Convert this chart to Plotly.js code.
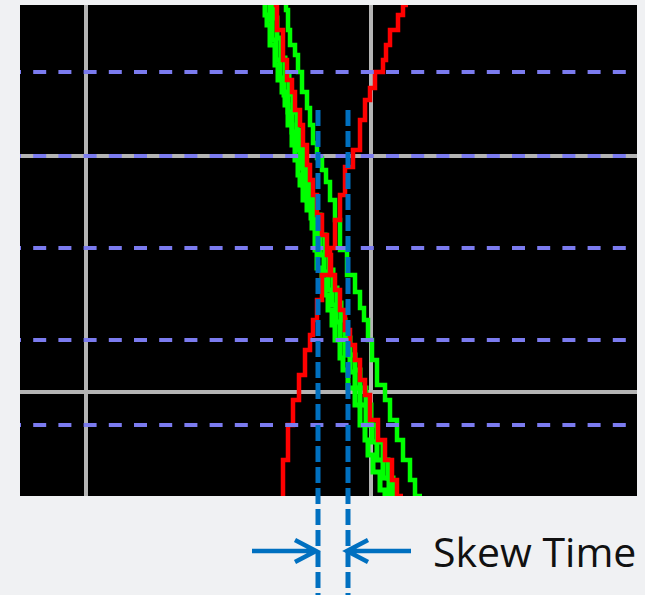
<!DOCTYPE html>
<html>
<head>
<meta charset="utf-8">
<script src="https://cdn.plot.ly/plotly-3.0.1.min.js"></script>
<style>
  html, body { margin: 0; padding: 0; background: #f0f1f3; }
  #chart { width: 645px; height: 595px; }
</style>
</head>
<body>
<div id="chart"></div>
<script>
// Scope capture: time in ps, level in mV (screen window 0..617 ps, 0..491 mV)
const T_RANGE = [0, 617];
const V_RANGE = [0, 491];

// Rising edge (red)
const riseRedT = [263, 268, 273, 279, 285, 290, 293, 297, 302, 310, 315, 320, 325, 333, 340, 345, 350, 355, 363, 366, 370, 378, 383, 388];
const riseRedV = [0, 36, 71, 96, 121, 146, 161, 176, 196, 221, 248, 276, 301, 329, 346, 376, 396, 408, 424, 436, 451, 466, 481, 491];

// Falling edge (red)
const fallRedT = [256, 257, 263, 267, 272, 275, 280, 283, 287, 290, 293, 297, 302, 307, 311, 315, 320, 325, 330, 335, 340, 345, 350, 358, 365, 372, 377, 383];
const fallRedV = [496, 491, 466, 436, 416, 404, 386, 371, 351, 331, 316, 301, 281, 261, 241, 221, 206, 186, 166, 151, 136, 116, 101, 76, 56, 36, 16, 0];

// Falling edges (green), persistence bundle
const greenAT = [245, 247, 250, 255, 258, 262, 265, 268, 272, 275, 278, 280, 283, 287, 292, 295, 297, 302, 305, 308, 312, 315, 320, 323, 328, 335, 340, 345, 348, 353, 360, 365, 367];
const greenAV = [496, 481, 471, 451, 431, 416, 404, 391, 371, 351, 336, 321, 311, 296, 286, 268, 246, 228, 216, 201, 186, 171, 156, 138, 126, 108, 91, 71, 56, 41, 24, 6, -4];

const greenBT = [250, 252, 256, 260, 264, 268, 272, 276, 280, 283, 287, 291, 296, 300, 304, 308, 312, 316, 320, 325, 330, 335, 340, 346, 352, 357, 363, 369, 374];
const greenBV = [496, 476, 456, 436, 418, 401, 384, 364, 346, 328, 311, 296, 278, 258, 241, 224, 206, 191, 174, 156, 141, 124, 108, 91, 71, 54, 36, 18, 0];

const greenCT = [254, 257, 261, 265, 269, 273, 277, 280, 284, 287, 291, 295, 300, 305, 309, 313, 317, 321, 325, 330, 335, 340, 346, 351, 357, 363, 368, 373, 378];
const greenCV = [496, 478, 458, 438, 420, 402, 384, 366, 348, 331, 314, 298, 281, 261, 244, 226, 208, 193, 176, 158, 141, 126, 108, 91, 71, 54, 36, 18, 0];

const greenDT = [266, 268, 270, 275, 278, 282, 287, 290, 293, 297, 302, 306, 310, 315, 320, 327, 335, 340, 344, 348, 352, 357, 365, 370, 377, 383, 390, 395, 402];
const greenDV = [496, 486, 466, 451, 441, 424, 404, 388, 371, 353, 338, 326, 314, 296, 276, 246, 221, 204, 188, 176, 156, 136, 111, 96, 76, 56, 36, 16, 0];

// Graticule and threshold levels
const gridT = [66, 351];
const gridV = [340, 104];
const thresholdV = [424, 340, 248, 156, 71];

// Skew measurement cursors
const skewEdges = [298, 328];
const skewLabel = 'Skew Time';

const PLOT_H = 491;
const toPaperX = t => (t - T_RANGE[0]) / (T_RANGE[1] - T_RANGE[0]);
const pxToPaperY = dy => dy / PLOT_H;   // pixel offset above the plot bottom

const RED = '#ff0000';
const GREEN = '#00ff00';
const CURSOR = '#0070c0';

function edge(t, v, color, width) {
  return {
    x: t, y: v, type: 'scatter', mode: 'lines',
    line: { color: color, width: width, shape: 'vh' },
    hoverinfo: 'skip', showlegend: false
  };
}

const data = [
  edge(greenDT, greenDV, GREEN, 4.5),
  edge(greenAT, greenAV, GREEN, 5),
  edge(greenBT, greenBV, GREEN, 5),
  edge(greenCT, greenCV, GREEN, 5),
  edge(fallRedT, fallRedV, RED, 4.5),
  edge(riseRedT, riseRedV, RED, 4.5)
];

const shapes = [];
gridT.forEach(t => shapes.push({
  type: 'line', xref: 'x', yref: 'y', layer: 'below',
  x0: t, x1: t, y0: V_RANGE[0] - 10, y1: V_RANGE[1] + 10,
  line: { color: '#b4b4b4', width: 4 }
}));
gridV.forEach(v => shapes.push({
  type: 'line', xref: 'x', yref: 'y', layer: 'below',
  x0: T_RANGE[0] - 10, x1: T_RANGE[1] + 10, y0: v, y1: v,
  line: { color: '#b4b4b4', width: 4 }
}));
thresholdV.forEach(v => shapes.push({
  type: 'line', xref: 'x', yref: 'y', layer: 'above',
  x0: T_RANGE[0] - 12, x1: T_RANGE[1] + 10, y0: v, y1: v,
  line: { color: '#7b7bef', width: 4, dash: '13px,12.2px' }
}));

// Cursor lines run from inside the screen down past its bottom edge
skewEdges.forEach(t => shapes.push({
  type: 'line', xref: 'paper', yref: 'paper', layer: 'above',
  x0: toPaperX(t), x1: toPaperX(t),
  y0: pxToPaperY(386), y1: pxToPaperY(-104),
  line: { color: CURSOR, width: 5, dash: '16px,5px' }
}));

// Inward-pointing arrows at the cursors
const arrowY = pxToPaperY(-55);
const armDY = pxToPaperY(11);
function arrow(tipT, dir) {
  // dir = +1 points right, -1 points left
  const tip = toPaperX(tipT);
  const tail = toPaperX(tipT - dir * 64);
  const back = toPaperX(tipT - dir * 21);
  return {
    type: 'path', xref: 'paper', yref: 'paper', layer: 'above',
    path: `M${tail},${arrowY} L${tip},${arrowY} M${back},${arrowY + armDY} L${tip},${arrowY} L${back},${arrowY - armDY}`,
    line: { color: CURSOR, width: 4.5 }
  };
}
shapes.push(arrow(skewEdges[0] - 2, 1));
shapes.push(arrow(skewEdges[1] - 1, -1));

const layout = {
  width: 645, height: 595,
  margin: { l: 20, r: 8, t: 5, b: 99, pad: 0 },
  paper_bgcolor: '#f0f1f3',
  plot_bgcolor: '#000000',
  showlegend: false,
  xaxis: { range: T_RANGE, showgrid: false, zeroline: false, showticklabels: false, ticks: '', showline: false, fixedrange: true },
  yaxis: { range: V_RANGE, showgrid: false, zeroline: false, showticklabels: false, ticks: '', showline: false, fixedrange: true },
  shapes: shapes,
  annotations: [{
    xref: 'paper', yref: 'paper',
    x: toPaperX(411), y: arrowY,
    xanchor: 'left', yanchor: 'middle',
    text: skewLabel, showarrow: false,
    font: { family: 'Open Sans, Noto Sans, sans-serif', size: 41, color: '#111111' }
  }]
};

Plotly.newPlot('chart', data, layout, { displayModeBar: false, staticPlot: true });
</script>
</body>
</html>
